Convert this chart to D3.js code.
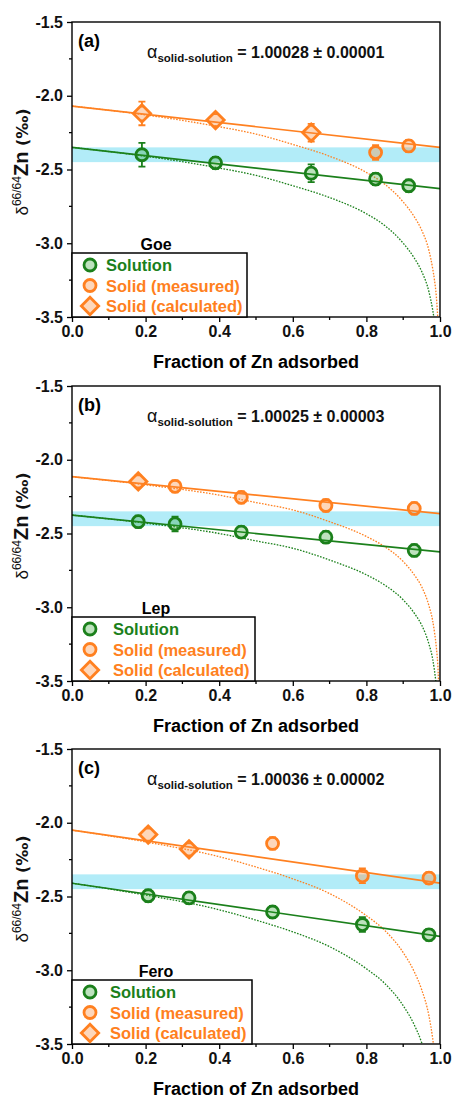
<!DOCTYPE html>
<html>
<head>
<meta charset="utf-8">
<script src="https://cdn.jsdelivr.net/npm/d3@7"></script>
<style>
	body { margin: 0; background: #fff; }
	svg { display: block; font-family: "Liberation Sans", Arial, sans-serif; }
</style>
</head>
<body>
<svg id="svg" width="455" height="1099"></svg>
<script>
const xTicks = [0, 0.2, 0.4, 0.6, 0.8, 1.0]
const yTicks = [-1.5, -2.0, -2.5, -3.0, -3.5]
const bandRange = [-2.35, -2.45]
const legendLabels = ['Solution', 'Solid (measured)', 'Solid (calculated)']
const fracGrid = [0, 0.2, 0.4, 0.5, 0.6, 0.7, 0.8, 0.85, 0.9, 0.93, 0.95, 0.97, 0.98, 0.985, 0.99, 0.995, 0.997]

// [fraction adsorbed, delta, error]
const goeSolution = [[0.19, -2.40, 0.08], [0.39, -2.455, 0.03], [0.65, -2.525, 0.06], [0.825, -2.565, 0.03], [0.915, -2.61, 0.03]]
const goeMeasured = [[0.825, -2.385, 0.05], [0.915, -2.34, 0.03]]
const goeCalculated = [[0.19, -2.12, 0.08], [0.39, -2.165, 0.03], [0.65, -2.25, 0.06]]
const goeLineSolution = [[0, -2.35], [1, -2.63]]
const goeLineSolid = [[0, -2.07], [1, -2.35]]
const goeRaySolution = [-2.35, -2.41, -2.49, -2.54, -2.61, -2.69, -2.80, -2.88, -3.00, -3.10, -3.19, -3.33, -3.45, -3.53]
const goeRaySolid = [-2.07, -2.13, -2.21, -2.26, -2.33, -2.41, -2.52, -2.60, -2.72, -2.82, -2.91, -3.05, -3.17, -3.25, -3.36, -3.55]

const lepSolution = [[0.18, -2.42, 0.03], [0.28, -2.435, 0.05], [0.46, -2.49, 0.03], [0.69, -2.525, 0.04], [0.93, -2.615, 0.03]]
const lepMeasured = [[0.28, -2.18, 0.03], [0.46, -2.255, 0.04], [0.69, -2.31, 0.03], [0.93, -2.33, 0.04]]
const lepCalculated = [[0.18, -2.147, 0.02]]
const lepLineSolution = [[0, -2.375], [1, -2.625]]
const lepLineSolid = [[0, -2.115], [1, -2.365]]
const lepRaySolution = [-2.375, -2.43, -2.50, -2.55, -2.60, -2.68, -2.78, -2.85, -2.95, -3.04, -3.12, -3.25, -3.35, -3.43, -3.53]
const lepRaySolid = [-2.115, -2.17, -2.24, -2.29, -2.34, -2.42, -2.52, -2.59, -2.69, -2.78, -2.86, -2.99, -3.09, -3.17, -3.27, -3.44, -3.57]

const feroSolution = [[0.207, -2.495, 0.03], [0.318, -2.51, 0.03], [0.545, -2.605, 0.03], [0.789, -2.69, 0.05], [0.97, -2.76, 0.03]]
const feroMeasured = [[0.545, -2.14, 0.03], [0.789, -2.36, 0.05], [0.97, -2.375, 0.04]]
const feroCalculated = [[0.207, -2.08, 0.02], [0.318, -2.18, 0.02]]
const feroLineSolution = [[0, -2.41], [1, -2.77]]
const feroLineSolid = [[0, -2.05], [1, -2.41]]
const feroRaySolution = [-2.41, -2.49, -2.59, -2.66, -2.74, -2.84, -2.99, -3.09, -3.24, -3.37, -3.49, -3.67]
const feroRaySolid = [-2.05, -2.13, -2.23, -2.30, -2.38, -2.48, -2.63, -2.73, -2.88, -3.01, -3.13, -3.31, -3.46, -3.56]

const green = '#1b801b', greenFill = 'rgba(40,160,40,0.3)'
const orange = '#ff8020', orangeFill = 'rgba(250,140,60,0.35)'
const bandColor = '#b2ecf8'

const panels = [
	{ tag: '(a)', mineral: 'Goe', alpha: '1.00028 \u00b1 0.00001', top: 22, legendRight: 247, legendTextX: 106,
		solution: goeSolution, measured: goeMeasured, calculated: goeCalculated,
		lineSolution: goeLineSolution, lineSolid: goeLineSolid, raySolution: goeRaySolution, raySolid: goeRaySolid },
	{ tag: '(b)', mineral: 'Lep', alpha: '1.00025 \u00b1 0.00003', top: 386, legendRight: 255, legendTextX: 113,
		solution: lepSolution, measured: lepMeasured, calculated: lepCalculated,
		lineSolution: lepLineSolution, lineSolid: lepLineSolid, raySolution: lepRaySolution, raySolid: lepRaySolid },
	{ tag: '(c)', mineral: 'Fero', alpha: '1.00036 \u00b1 0.00002', top: 749, legendRight: 252, legendTextX: 110,
		solution: feroSolution, measured: feroMeasured, calculated: feroCalculated,
		lineSolution: feroLineSolution, lineSolid: feroLineSolid, raySolution: feroRaySolution, raySolid: feroRaySolid },
]

const $svg = d3.select('#svg')
const left = 72, right = 440, plotH = 295

const scaleX = d3.scaleLinear().domain([0, 1]).range([left, right])
const fmt = d => d3.format('.1f')(d).replace('\u2212', '-')

const markerR = 6
const diamond = d3.symbol(d3.symbolSquare, 150)()
const circle = d3.symbol(d3.symbolCircle, Math.PI * markerR * markerR)()

const drawMarkers = ($g, data, scaleY, color, fill, shape) => {
	const $pts = $g.append('g').selectAll('g').data(data).join('g')
		.attr('transform', d => `translate(${scaleX(d[0])},${scaleY(d[1])})`)
	$pts.append('path')
		.attr('d', d => {
			const hi = Math.min(scaleY(d[1] + d[2]) - scaleY(d[1]), -markerR)
			const lo = Math.max(scaleY(d[1] - d[2]) - scaleY(d[1]), markerR)
			return `M0,${hi}V${-markerR}M0,${markerR}V${lo}M-3.5,${hi}h7M-3.5,${lo}h7`
		})
		.attr('stroke', color).attr('stroke-width', 1.8).attr('fill', 'none')
	$pts.append('path')
		.attr('d', shape === 'diamond' ? diamond : circle)
		.attr('transform', shape === 'diamond' ? 'rotate(45)' : null)
		.attr('fill', fill).attr('stroke', color).attr('stroke-width', 2.8)
}

panels.forEach((p, i) => {
	const top = p.top, bottom = top + plotH
	const scaleY = d3.scaleLinear().domain([-3.5, -1.5]).range([bottom, top])
	const $g = $svg.append('g')

	$svg.append('clipPath').attr('id', `clip${i}`)
		.append('rect').attr('x', left).attr('y', top).attr('width', right - left).attr('height', plotH)

	// blue band
	$g.append('rect')
		.attr('x', left).attr('width', right - left)
		.attr('y', scaleY(bandRange[0])).attr('height', scaleY(bandRange[1]) - scaleY(bandRange[0]))
		.attr('fill', bandColor)

	const line = d3.line().x(d => scaleX(d[0])).y(d => scaleY(d[1]))
	const curve = d3.line().x((d, j) => scaleX(fracGrid[j])).y(d => scaleY(d)).curve(d3.curveMonotoneX)

	const $lines = $g.append('g').attr('clip-path', `url(#clip${i})`).attr('fill', 'none')
	$lines.append('path').attr('d', curve(p.raySolution)).attr('stroke', green).attr('stroke-width', 1.3).attr('stroke-dasharray', '1.6,1.4')
	$lines.append('path').attr('d', curve(p.raySolid)).attr('stroke', orange).attr('stroke-width', 1.3).attr('stroke-dasharray', '1.6,1.4')
	$lines.append('path').attr('d', line(p.lineSolution)).attr('stroke', green).attr('stroke-width', 1.7)
	$lines.append('path').attr('d', line(p.lineSolid)).attr('stroke', orange).attr('stroke-width', 1.7)

	drawMarkers($g, p.solution, scaleY, green, greenFill, 'circle')
	drawMarkers($g, p.measured, scaleY, orange, orangeFill, 'circle')
	drawMarkers($g, p.calculated, scaleY, orange, orangeFill, 'diamond')

	// frame
	$g.append('rect').attr('x', left).attr('y', top).attr('width', right - left).attr('height', plotH)
		.attr('fill', 'none').attr('stroke', '#000').attr('stroke-width', 1.4)

	// axes
	const $xAxis = $g.append('g').attr('transform', `translate(0,${bottom})`)
		.call(d3.axisBottom(scaleX).tickValues(xTicks).tickFormat(fmt).tickSize(5).tickPadding(4))
	$xAxis.append('g').selectAll('line').data(d3.range(0.1, 1, 0.2)).join('line')
		.attr('x1', d => scaleX(d)).attr('x2', d => scaleX(d)).attr('y2', 3).attr('stroke', '#000').attr('stroke-width', 1.3)
	const $yAxis = $g.append('g').attr('transform', `translate(${left},0)`)
		.call(d3.axisLeft(scaleY).tickValues(yTicks).tickFormat(fmt).tickSize(5).tickPadding(4))
	$yAxis.append('g').selectAll('line').data([-1.75, -2.25, -2.75, -3.25]).join('line')
		.attr('y1', d => scaleY(d)).attr('y2', d => scaleY(d)).attr('x2', -3).attr('stroke', '#000').attr('stroke-width', 1.3)
	;[$xAxis, $yAxis].forEach($a => {
		$a.select('.domain').remove()
		$a.selectAll('.tick line').attr('stroke-width', 1.3)
		$a.selectAll('text').attr('font-size', 16).attr('font-weight', 'bold').attr('font-family', '"Liberation Sans", Arial, sans-serif').attr('fill', '#111')
	})

	// titles
	$g.append('text').attr('x', (left + right) / 2).attr('y', bottom + 51)
		.attr('text-anchor', 'middle').attr('font-size', 18).attr('font-weight', 'bold')
		.text('Fraction of Zn adsorbed')

	const $yt = $g.append('text').attr('transform', `translate(28,${top + 140}) rotate(-90)`)
		.attr('text-anchor', 'middle').attr('fill', '#111')
	$yt.append('tspan').attr('font-size', 17).text('\u03b4')
	$yt.append('tspan').attr('font-size', 12).attr('dy', -7).text('66/64')
	$yt.append('tspan').attr('font-size', 20).attr('font-weight', 'bold').attr('dy', 7).text('Zn ')
	$yt.append('tspan').attr('font-size', 16).attr('font-weight', 'bold').attr('font-family', '"DejaVu Sans", sans-serif').text('(\u2030)')

	$g.append('text').attr('x', 78).attr('y', top + 25).attr('font-size', 18).attr('font-weight', 'bold').text(p.tag)

	const $al = $g.append('text').attr('x', 147).attr('y', top + 36).attr('fill', '#111')
	$al.append('tspan').attr('font-size', 18).text('\u03b1')
	$al.append('tspan').attr('font-size', 11.5).attr('font-weight', 'bold').attr('dy', 4).text('solid-solution')
	$al.append('tspan').attr('font-size', 16).attr('font-weight', 'bold').attr('dy', -4).text(' = ' + p.alpha)

	// legend
	const legTop = top + 231
	$g.append('text').attr('x', 156).attr('y', top + 228).attr('text-anchor', 'middle')
		.attr('font-size', 16).attr('font-weight', 'bold').text(p.mineral)
	$g.append('rect').attr('x', left).attr('y', legTop).attr('width', p.legendRight - left).attr('height', bottom - legTop)
		.attr('fill', '#fff').attr('stroke', '#000').attr('stroke-width', 1.5)
	const legendStyle = [[green, greenFill, 'circle'], [orange, orangeFill, 'circle'], [orange, orangeFill, 'diamond']]
	legendLabels.forEach((label, j) => {
		const y = top + 243 + j * 20.5
		const [c, f, s] = legendStyle[j]
		$g.append('path').attr('d', s === 'diamond' ? diamond : circle)
			.attr('transform', `translate(90,${y})` + (s === 'diamond' ? ' rotate(45)' : ''))
			.attr('fill', f).attr('stroke', c).attr('stroke-width', 2.8)
		$g.append('text').attr('x', p.legendTextX).attr('y', y + 6)
			.attr('font-size', 16.5).attr('font-weight', 'bold').attr('fill', c).text(label)
	})
})
</script>
</body>
</html>
